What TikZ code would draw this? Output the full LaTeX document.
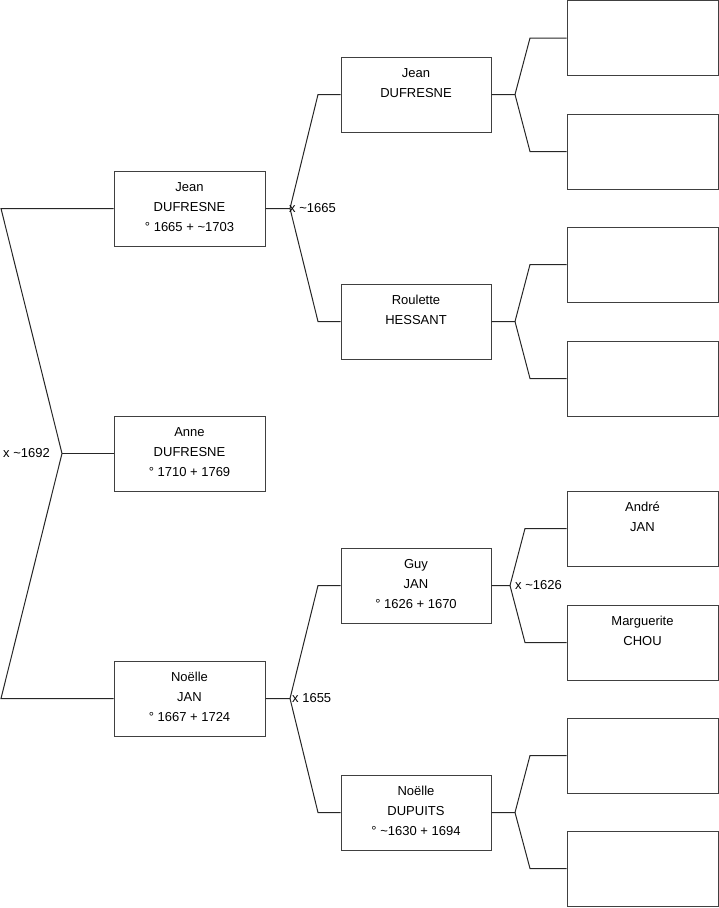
\documentclass[tikz,border=0pt]{standalone}
\usepackage{fontspec}
\setmainfont{Liberation Sans}
\begin{document}
\begin{tikzpicture}[x=1pt,y=-1pt,
  person/.style={draw=black!75,line width=1pt,minimum width=151pt,minimum height=75pt,inner sep=0pt},
  txt/.style={anchor=north,inner sep=0pt,align=center,font=\fontsize{13pt}{20pt}\selectfont,yshift=-9.7pt},
  mar/.style={anchor=west,inner sep=0pt,font=\fontsize{13pt}{20pt}\selectfont},
  conn/.style={draw=black!85,line width=1pt}]
\useasboundingbox (0,0) rectangle (719,908);
% generation 1
\node[person] (j1) at (189.5,208.5) {};
\node[person] (a1) at (189.5,453.5) {};
\node[person] (n1) at (189.5,698.5) {};
% generation 2
\node[person,minimum width=150pt] (j2) at (416,94.5) {};
\node[person,minimum width=150pt] (r2) at (416,321.5) {};
\node[person,minimum width=150pt] (g2) at (416,585.5) {};
\node[person,minimum width=150pt] (n2) at (416,812.5) {};
% generation 3
\node[person] (p1) at (642.5,38) {};
\node[person] (p2) at (642.5,151.5) {};
\node[person] (p3) at (642.5,264.5) {};
\node[person] (p4) at (642.5,378.5) {};
\node[person] (p5) at (642.5,528.5) {};
\node[person] (p6) at (642.5,642.5) {};
\node[person] (p7) at (642.5,755.5) {};
\node[person] (p8) at (642.5,868.5) {};
% texts
\node[txt] (tj1) at (j1.north) {\rule{0pt}{11pt}Jean\\DUFRESNE\\° 1665 + \char`~1703};
\node[txt] (ta1) at (a1.north) {\rule{0pt}{11pt}Anne\\DUFRESNE\\° 1710 + 1769};
\node[txt] (tn1) at (n1.north) {\rule{0pt}{11pt}Noëlle\\JAN\\° 1667 + 1724};
\node[txt] (tj2) at (j2.north) {\rule{0pt}{11pt}Jean\\DUFRESNE};
\node[txt] (tr2) at (r2.north) {\rule{0pt}{11pt}Roulette\\HESSANT};
\node[txt] (tg2) at (g2.north) {\rule{0pt}{11pt}Guy\\JAN\\° 1626 + 1670};
\node[txt] (tn2) at (n2.north) {\rule{0pt}{11pt}Noëlle\\DUPUITS\\° \char`~1630 + 1694};
\node[txt] (tp5) at (p5.north) {\rule{0pt}{11pt}André\\JAN};
\node[txt] (tp6) at (p6.north) {\rule{0pt}{11pt}Marguerite\\CHOU};
% connectors gen0
\coordinate (a0) at (1,208.5);
\coordinate (m0) at (62,453.5);
\coordinate (b0) at (1,698.5);
\draw[conn] (j1.west) -- (a0) -- (m0) -- (b0) -- (n1.west);
\draw[conn] (m0) -- (a1.west);
\node[mar] (l0) at (3,453.5) {x \char`~1692};
% gen1 -> gen2
\coordinate (m1) at (290,208.5);
\coordinate (m1a) at (318,94.5);
\coordinate (m1b) at (318,321.5);
\draw[conn] (j1.east) -- (m1) -- (m1a) -- (j2.west);
\draw[conn] (m1) -- (m1b) -- (r2.west);
\node[mar] (l1) at (289,208.5) {x \char`~1665};
\coordinate (m2) at (290,698.5);
\coordinate (m2a) at (318,585.5);
\coordinate (m2b) at (318,812.5);
\draw[conn] (n1.east) -- (m2) -- (m2a) -- (g2.west);
\draw[conn] (m2) -- (m2b) -- (n2.west);
\node[mar] (l2) at (292,698.5) {x 1655};
% gen2 -> gen3
\coordinate (m3) at (515,94.5);
\coordinate (m3a) at (530,38);
\coordinate (m3b) at (530,151.5);
\draw[conn] (j2.east) -- (m3) -- (m3a) -- (p1.west);
\draw[conn] (m3) -- (m3b) -- (p2.west);
\coordinate (m4) at (515,321.5);
\coordinate (m4a) at (530,264.5);
\coordinate (m4b) at (530,378.5);
\draw[conn] (r2.east) -- (m4) -- (m4a) -- (p3.west);
\draw[conn] (m4) -- (m4b) -- (p4.west);
\coordinate (m5) at (510,585.5);
\coordinate (m5a) at (525,528.5);
\coordinate (m5b) at (525,642.5);
\draw[conn] (g2.east) -- (m5) -- (m5a) -- (p5.west);
\draw[conn] (m5) -- (m5b) -- (p6.west);
\node[mar] (l5) at (515,585.5) {x \char`~1626};
\coordinate (m6) at (515,812.5);
\coordinate (m6a) at (530,755.5);
\coordinate (m6b) at (530,868.5);
\draw[conn] (n2.east) -- (m6) -- (m6a) -- (p7.west);
\draw[conn] (m6) -- (m6b) -- (p8.west);
\end{tikzpicture}
\end{document}
